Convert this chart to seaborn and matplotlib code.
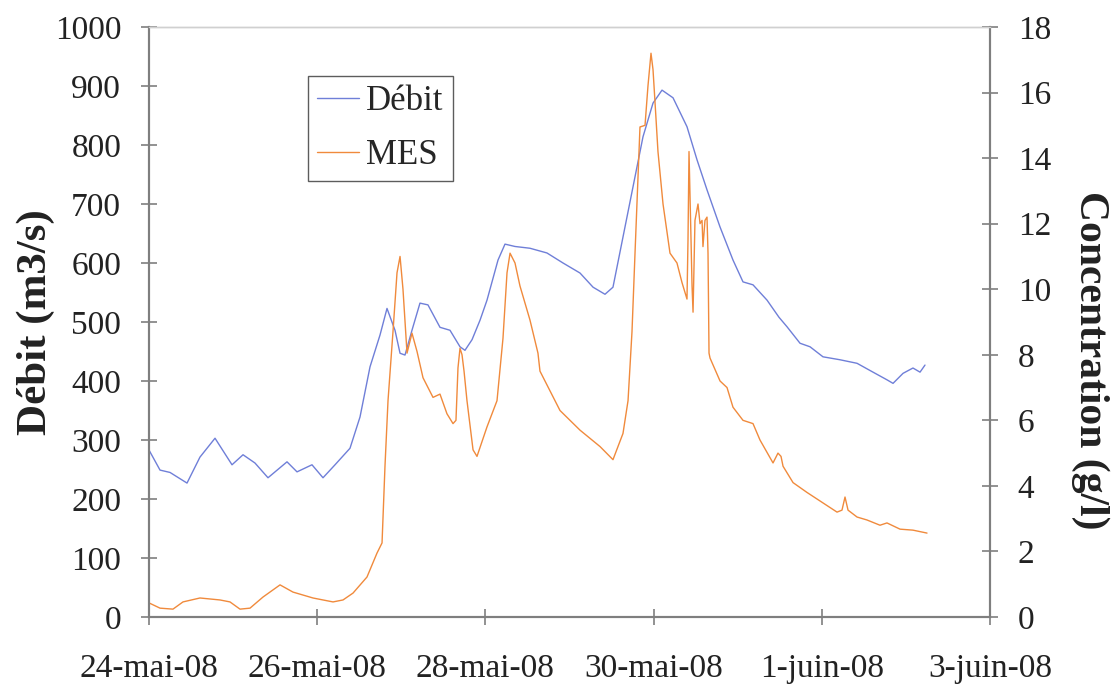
import numpy as np
import pandas as pd
import matplotlib
matplotlib.use("Agg")
import matplotlib.pyplot as plt
import seaborn as sns

# ---------------- data (days since 24-mai-08 00:00) ----------------
debit_days = [0.000, 0.131, 0.250, 0.452, 0.606, 0.785, 0.987, 1.118, 1.260, 1.415,
              1.641, 1.760, 1.938, 2.069, 2.212, 2.390, 2.509, 2.628, 2.747, 2.830,
              2.925, 2.985, 3.044, 3.127, 3.222, 3.317, 3.460, 3.579, 3.698, 3.757,
              3.841, 3.936, 4.019, 4.150, 4.233, 4.352, 4.530, 4.732, 4.923, 5.125,
              5.280, 5.422, 5.517, 5.636, 5.755, 5.874, 5.993, 6.100, 6.231, 6.397,
              6.516, 6.635, 6.790, 6.944, 7.063, 7.182, 7.349, 7.491, 7.586, 7.741,
              7.860, 8.014, 8.216, 8.419, 8.609, 8.775, 8.847, 8.966, 9.084, 9.168,
              9.227]
debit_vals = [283, 249, 245, 227, 271, 303, 258, 275, 261, 236,
              263, 246, 258, 236, 258, 286, 339, 424, 478, 523,
              486, 447, 444, 486, 532, 529, 491, 486, 458, 452,
              470, 503, 537, 605, 632, 628, 625, 617, 600, 583,
              559, 547, 559, 644, 729, 814, 871, 893, 880, 831,
              775, 724, 661, 605, 568, 563, 537, 508, 492, 464,
              458, 441, 436, 430, 415, 402, 396, 413, 422, 415,
              427]

mes_days = [0.000, 0.131, 0.285, 0.404, 0.606, 0.844, 0.963, 1.082, 1.201, 1.356,
            1.558, 1.712, 1.950, 2.188, 2.307, 2.426, 2.592, 2.711, 2.771, 2.806,
            2.842, 2.901, 2.949, 2.985, 3.020, 3.068, 3.127, 3.187, 3.258, 3.377,
            3.460, 3.543, 3.615, 3.650, 3.674, 3.698, 3.722, 3.746, 3.781, 3.853,
            3.900, 4.019, 4.138, 4.209, 4.257, 4.293, 4.352, 4.411, 4.530, 4.625,
            4.649, 4.887, 5.125, 5.363, 5.517, 5.636, 5.696, 5.743, 5.779, 5.838,
            5.898, 5.933, 5.969, 5.993, 6.017, 6.052, 6.112, 6.195, 6.278, 6.338,
            6.397, 6.409, 6.421, 6.445, 6.457, 6.469, 6.492, 6.528, 6.552, 6.576,
            6.587, 6.611, 6.635, 6.647, 6.659, 6.671, 6.790, 6.873, 6.944, 7.063,
            7.182, 7.265, 7.420, 7.479, 7.515, 7.539, 7.658, 7.824, 7.943, 8.062,
            8.181, 8.240, 8.276, 8.312, 8.419, 8.537, 8.692, 8.775, 8.930, 9.084,
            9.251]
mes_vals = [0.43, 0.27, 0.24, 0.46, 0.58, 0.52, 0.46, 0.24, 0.27, 0.61,
            0.98, 0.76, 0.58, 0.46, 0.52, 0.73, 1.22, 1.95, 2.26, 4.6,
            6.6, 8.7, 10.5, 11.0, 10.0, 8.05, 8.66, 8.1, 7.3, 6.7,
            6.8, 6.2, 5.9, 6.0, 7.6, 8.2, 8.0, 7.5, 6.6, 5.1,
            4.9, 5.8, 6.6, 8.5, 10.5, 11.1, 10.8, 10.1, 9.06, 8.05,
            7.5, 6.3, 5.7, 5.2, 4.8, 5.6, 6.6, 8.7, 11.1, 14.95,
            15.0, 16.2, 17.2, 16.7, 15.7, 14.2, 12.6, 11.1, 10.8, 10.2,
            9.7, 11.5, 14.2, 11.5, 10.1, 9.3, 12.1, 12.6, 12.0, 12.1,
            11.3, 12.1, 12.2, 11.1, 8.05, 7.9, 7.2, 7.0, 6.4, 6.0,
            5.9, 5.4, 4.7, 5.0, 4.9, 4.6, 4.1, 3.8, 3.6, 3.4,
            3.2, 3.26, 3.66, 3.26, 3.05, 2.96, 2.8, 2.87, 2.68, 2.65,
            2.56]

start_date = "2008-05-24"
tick_dates = ["2008-05-24", "2008-05-26", "2008-05-28", "2008-05-30", "2008-06-01", "2008-06-03"]
tick_labels = ["24-mai-08", "26-mai-08", "28-mai-08", "30-mai-08", "1-juin-08", "3-juin-08"]
left_ticks = list(range(0, 1001, 100))
right_ticks = list(range(0, 19, 2))

t0 = pd.Timestamp(start_date)
df_debit = pd.DataFrame({"date": t0 + pd.to_timedelta(debit_days, unit="D"), "val": debit_vals})
df_mes = pd.DataFrame({"date": t0 + pd.to_timedelta(mes_days, unit="D"), "val": mes_vals})

# ---------------- style ----------------
sns.set_style("white")
plt.rcParams["font.family"] = ["Liberation Serif", "DejaVu Serif"]

blue = "#6f7fd8"
orange = "#f08a3c"
axis_gray = "#7f7f7f"
text_col = "#222222"

fig = plt.figure(figsize=(11.12, 6.85), dpi=100)
ax = fig.add_axes([149 / 1112, 1 - 617 / 685, (990 - 149) / 1112, (617 - 27) / 685])
ax2 = ax.twinx()

sns.lineplot(data=df_debit, x="date", y="val", ax=ax, color=blue, linewidth=1.0,
             estimator=None, sort=False, label="Débit", legend=False)
sns.lineplot(data=df_mes, x="date", y="val", ax=ax2, color=orange, linewidth=1.0,
             estimator=None, sort=False, label="MES", legend=False)

ax.set_xlim(pd.Timestamp(tick_dates[0]), pd.Timestamp(tick_dates[-1]))
ax.set_ylim(0, 1000)
ax2.set_ylim(0, 18)
ax.set_xticks(pd.to_datetime(tick_dates))
ax.set_xticklabels(tick_labels)
ax.set_yticks(left_ticks)
ax2.set_yticks(right_ticks)

fs = 24
ax.tick_params(axis="x", direction="inout", length=12, width=1.2, color=axis_gray,
               labelsize=fs, pad=20, bottom=True, labelcolor=text_col)
ax.tick_params(axis="y", direction="inout", length=12, width=1.2, color=axis_gray,
               labelsize=fs, pad=14, left=True, labelcolor=text_col)
ax2.tick_params(axis="y", direction="inout", length=12, width=1.2, color=axis_gray,
                labelsize=fs, pad=14, right=True, labelcolor=text_col)

for a in (ax, ax2):
    for side in ("left", "right", "bottom"):
        a.spines[side].set_color(axis_gray)
        a.spines[side].set_linewidth(1.5)
    a.spines["top"].set_color("#d0d0d0")
    a.spines["top"].set_linewidth(1.0)

ax.set_xlabel("")
ax.set_ylabel("Débit (m3/s)", fontsize=31, fontweight="bold", color=text_col)
ax.yaxis.set_label_coords((36 - 149) / 841, 0.5)
ax2.set_ylabel("Concentration (g/l)", fontsize=30, fontweight="bold", rotation=270,
               color=text_col, va="center", ha="center")
ax2.yaxis.set_label_coords((1090 - 149) / 841, (617 - 360) / 590)
ax.yaxis.label.set_va("center")
ax.yaxis.label.set_ha("center")

h1, l1 = ax.get_legend_handles_labels()
h2, l2 = ax2.get_legend_handles_labels()
leg = ax2.legend(h1 + h2, l1 + l2, loc="upper left", bbox_to_anchor=(0.189, 0.917),
                 fontsize=25, frameon=True, fancybox=False, handlelength=1.2,
                 handletextpad=0.2, borderpad=0.27, labelspacing=0.59, borderaxespad=0)
leg.get_frame().set_edgecolor("#333333")
leg.get_frame().set_linewidth(1.0)

fig.savefig("out.png", dpi=100)
